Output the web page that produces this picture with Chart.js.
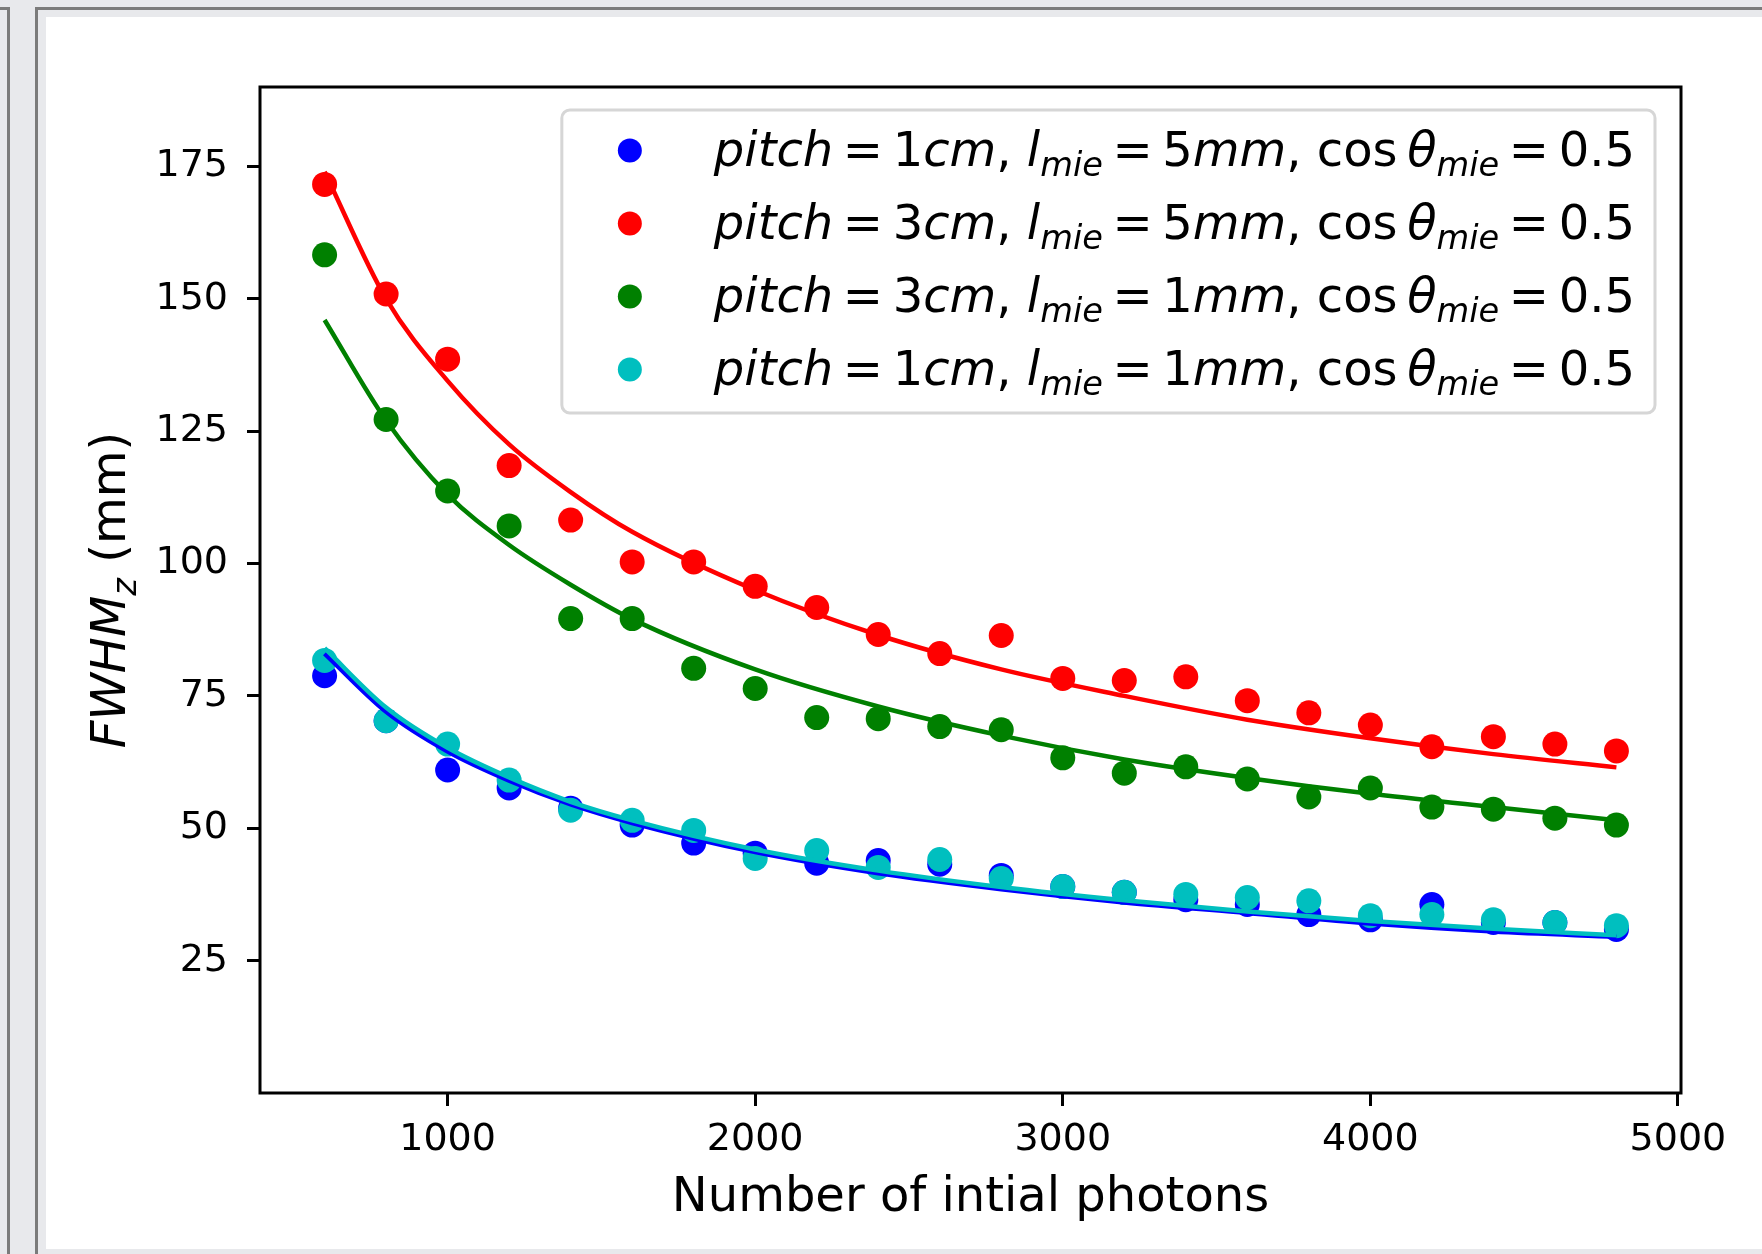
<!DOCTYPE html>
<html>
<head>
<meta charset="utf-8">
<title>FWHM vs initial photons</title>
<script src="https://cdn.jsdelivr.net/npm/chart.js@4.4.0/dist/chart.umd.min.js"></script>
<style>
  html, body { margin: 0; padding: 0; }
  body { width: 1762px; height: 1254px; background: #e8e9ec; position: relative; overflow: hidden; }
  #side { position: absolute; left: -20px; top: 7px; width: 27px; height: 1300px;
          border-top: 3px solid #7b7b7b; border-right: 3px solid #7b7b7b; }
  #frame { position: absolute; left: 35px; top: 7px; width: 1800px; height: 1300px;
           border-left: 3px solid #7b7b7b; border-top: 3px solid #7b7b7b; }
  #paper { position: absolute; left: 46px; top: 17px; width: 1716px; height: 1232px; background: #fff; }
  #chart1 { position: absolute; left: 46px; top: 17px; }
</style>
</head>
<body>
<div id="side"></div>
<div id="frame"></div>
<div id="paper"></div>
<canvas id="chart1" width="1716" height="1232"></canvas>
<script>
// simulated points
const photons = [600, 800, 1000, 1200, 1400, 1600, 1800, 2000, 2200, 2400, 2600,
                 2800, 3000, 3200, 3400, 3600, 3800, 4000, 4200, 4400, 4600, 4800];
const fwhmP1L5 = [78.8, 70.3, 61.0, 57.6, 53.8, 50.6, 47.2, 45.3, 43.4, 43.9, 43.2,
                  41.1, 39.0, 37.9, 36.5, 35.6, 33.7, 32.7, 35.6, 32.2, 32.2, 30.9];
const fwhmP3L5 = [171.6, 150.9, 138.6, 118.5, 108.2, 100.3, 100.3, 95.7, 91.7, 86.6, 83.0,
                  86.4, 78.3, 77.9, 78.6, 74.1, 71.8, 69.5, 65.4, 67.3, 65.9, 64.6];
const fwhmP3L1 = [158.3, 127.2, 113.7, 107.1, 89.6, 89.6, 80.2, 76.4, 70.9, 70.7, 69.2,
                  68.6, 63.3, 60.4, 61.6, 59.3, 55.9, 57.6, 54.0, 53.6, 51.9, 50.6];
const fwhmP1L1 = [81.7, 70.3, 65.9, 59.1, 53.4, 51.5, 49.6, 44.3, 45.8, 42.6, 44.1,
                  40.5, 39.0, 37.9, 37.5, 36.9, 36.3, 33.5, 33.7, 32.7, 32.2, 31.6];

// fitted curves, sampled along x
const fitPhotons = [600, 800, 1000, 1200, 1400, 1600, 2000, 2400, 2800, 3200, 3600, 4000, 4400, 4800];
const fitP1L5 = [83.0, 72.0, 64.5, 59.0, 54.5, 51.0, 45.5, 41.5, 38.5, 36.0, 34.0, 32.0, 30.5, 29.5];
const fitP3L5 = [174.0, 150.0, 134.5, 122.5, 113.5, 106.0, 95.0, 86.5, 80.0, 75.0, 70.5, 67.0, 64.0, 61.5];
const fitP3L1 = [146.0, 127.0, 113.0, 103.5, 96.0, 89.5, 80.0, 73.0, 67.5, 63.0, 59.5, 56.5, 54.0, 51.5];
const fitP1L1 = [84.0, 72.8, 65.2, 59.6, 55.0, 51.5, 46.0, 42.0, 38.9, 36.4, 34.3, 32.5, 31.0, 29.8];

const pitchCm = ['1', '3', '3', '1'];
const lmieMm = ['5', '5', '1', '1'];
const cosTheta = '0.5';
const colors = ['#0000ff', '#ff0000', '#008000', '#00bfbf'];

const xTicks = [1000, 2000, 3000, 4000, 5000];
const yTicks = [25, 50, 75, 100, 125, 150, 175];

const pointSets = [fwhmP1L5, fwhmP3L5, fwhmP3L1, fwhmP1L1];
const fitSets = [fitP1L5, fitP3L5, fitP3L1, fitP1L1];

const FONT = '"DejaVu Sans", sans-serif';
const EQ = '\u2009=\u2009';

function xy(xs, ys) {
  let out = [];
  for (let i = 0; i < xs.length; i++) {
    out.push({x: xs[i], y: ys[i]});
  }
  return out;
}

// mathtext-like pieces: [text, italic, subscript]
function legendParts(k) {
  return [
    ['pitch', true], [EQ, false], [pitchCm[k], false], ['cm', true], [', ', false],
    ['l', true], ['mie', true, true], [EQ, false], [lmieMm[k], false], ['mm', true], [', ', false],
    ['cos', false], ['\u2009', false], ['\u03b8', true], ['mie', true, true], [EQ, false], [cosTheta, false]
  ];
}

function partFont(p, size) {
  let s = p[2] ? size * 0.7 : size;
  return (p[1] ? 'italic ' : '') + s + 'px ' + FONT;
}

function richWidth(ctx, parts, size) {
  let w = 0;
  parts.forEach(function(p) {
    ctx.font = partFont(p, size);
    w += ctx.measureText(p[0]).width;
  });
  return w;
}

function drawRich(ctx, parts, x, y, size) {
  ctx.textBaseline = 'alphabetic';
  ctx.textAlign = 'left';
  parts.forEach(function(p) {
    ctx.font = partFont(p, size);
    ctx.fillText(p[0], x, p[2] ? y + size * 0.22 : y);
    x += ctx.measureText(p[0]).width;
  });
}

const extras = {
  id: 'extras',
  afterDatasetsDraw(chart) {
    const c = chart.ctx;
    const a = chart.chartArea;
    c.save();

    // axes frame
    c.strokeStyle = '#000';
    c.lineWidth = 3;
    c.strokeRect(a.left, a.top, a.right - a.left, a.bottom - a.top);

    // legend
    const size = 48;
    let textW = 0;
    for (let k = 0; k < 4; k++) {
      textW = Math.max(textW, richWidth(c, legendParts(k), size));
    }
    const boxRight = a.right - 26;
    const boxTop = a.top + 23;
    const textX = boxRight - 20 - textW;
    const markX = textX - 84;
    const boxLeft = markX - 68;
    const boxBottom = boxTop + 303;
    const r = 8;
    c.beginPath();
    c.moveTo(boxLeft + r, boxTop);
    c.arcTo(boxRight, boxTop, boxRight, boxBottom, r);
    c.arcTo(boxRight, boxBottom, boxLeft, boxBottom, r);
    c.arcTo(boxLeft, boxBottom, boxLeft, boxTop, r);
    c.arcTo(boxLeft, boxTop, boxRight, boxTop, r);
    c.closePath();
    c.fillStyle = 'rgba(255,255,255,0.8)';
    c.fill();
    c.strokeStyle = '#d6d6d6';
    c.lineWidth = 3;
    c.stroke();
    for (let k = 0; k < 4; k++) {
      const rowY = boxTop + 40.6 + 73 * k;
      c.fillStyle = colors[k];
      c.beginPath();
      c.arc(markX, rowY, 12, 0, Math.PI * 2);
      c.fill();
      c.fillStyle = '#000';
      drawRich(c, legendParts(k), textX, rowY + 15, size);
    }

    // y axis title
    const yParts = [['FWHM', true], ['z', true, true], [' (mm)', false]];
    const ySize = 48;
    const yw = richWidth(c, yParts, ySize);
    c.translate(79, (a.top + a.bottom) / 2);
    c.rotate(-Math.PI / 2);
    c.fillStyle = '#000';
    drawRich(c, yParts, -yw / 2, 0, ySize);

    c.restore();
  }
};

let datasets = [];
for (let k = 0; k < 4; k++) {
  datasets.push({
    type: 'scatter',
    label: 'pitch = ' + pitchCm[k] + 'cm, l_mie = ' + lmieMm[k] + 'mm, cos θ_mie = ' + cosTheta,
    data: xy(photons, pointSets[k]),
    backgroundColor: colors[k],
    borderWidth: 0,
    pointRadius: 12.5,
    pointHoverRadius: 12.5,
    order: 8 - k
  });
}
for (let k = 0; k < 4; k++) {
  datasets.push({
    type: 'line',
    label: 'fit ' + (k + 1),
    data: xy(fitPhotons, fitSets[k]),
    borderColor: colors[k],
    borderWidth: 4.5,
    pointRadius: 0,
    cubicInterpolationMode: 'monotone',
    fill: false,
    order: 4 - k
  });
}

const ctx = document.getElementById('chart1').getContext('2d');

const chart1 = new Chart(ctx, {
  data: { datasets: datasets },
  plugins: [extras],
  options: {
    responsive: false,
    animation: false,
    devicePixelRatio: 1,
    layout: { padding: { left: 0, right: 81, top: 70, bottom: 0 } },
    plugins: {
      legend: { display: false },
      tooltip: { enabled: false }
    },
    scales: {
      x: {
        type: 'linear',
        min: 390,
        max: 5010,
        afterBuildTicks: function(scale) {
          scale.ticks = xTicks.map(function(v) { return {value: v}; });
        },
        afterFit: function(scale) { scale.height = 156; },
        border: { display: false },
        grid: {
          drawOnChartArea: false,
          drawTicks: true,
          tickLength: 13,
          tickWidth: 3,
          tickColor: '#000'
        },
        ticks: {
          color: '#000',
          padding: 11,
          maxRotation: 0,
          font: { family: FONT, size: 38 },
          callback: function(v) { return String(v); }
        },
        title: {
          display: true,
          text: 'Number of intial photons',
          color: '#000',
          padding: { top: 0, bottom: 22 },
          font: { family: FONT, size: 48 }
        }
      },
      y: {
        type: 'linear',
        min: 0,
        max: 190,
        afterBuildTicks: function(scale) {
          scale.ticks = yTicks.map(function(v) { return {value: v}; });
        },
        afterFit: function(scale) { scale.width = 214; },
        border: { display: false },
        grid: {
          drawOnChartArea: false,
          drawTicks: true,
          tickLength: 13,
          tickWidth: 3,
          tickColor: '#000'
        },
        ticks: {
          color: '#000',
          padding: 19,
          font: { family: FONT, size: 38 },
          callback: function(v) { return String(v); }
        }
      }
    }
  }
});
</script>
</body>
</html>
